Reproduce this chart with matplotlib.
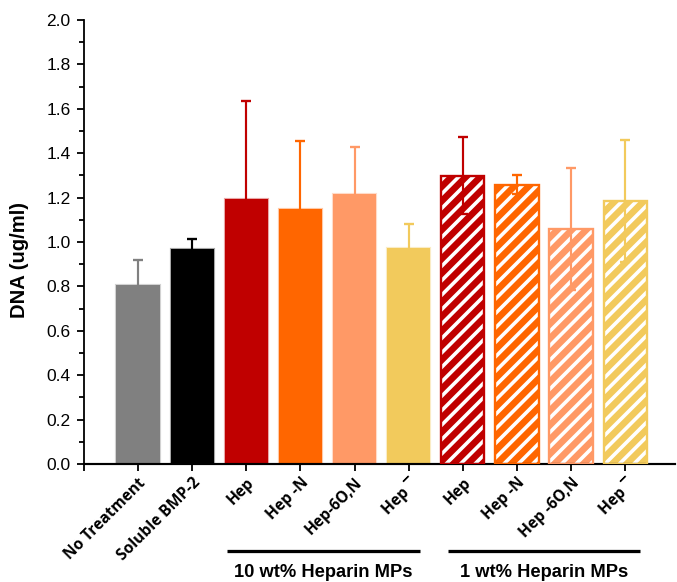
import matplotlib
matplotlib.use("Agg")
import matplotlib.pyplot as plt
from matplotlib.colors import to_rgba

categories = ["No Treatment", "Soluble BMP-2", "Hep", "Hep -N", "Hep-6O,N", "Hep \u00af",
              "Hep", "Hep -N", "Hep -6O,N", "Hep \u00af"]
values = [0.805, 0.967, 1.196, 1.151, 1.218, 0.975, 1.298, 1.259, 1.058, 1.184]
errors = [0.115, 0.046, 0.440, 0.302, 0.208, 0.108, 0.173, 0.044, 0.274, 0.276]
colors = ["#808080", "#000000", "#C00000", "#FF6600", "#FF9966", "#F2CA5C",
          "#C00000", "#FF6600", "#FF9966", "#F2CA5C"]
hatched = [False] * 6 + [True] * 4
groups = ["10 wt% Heparin MPs", "1 wt% Heparin MPs"]
group_spans = [(2.65, 6.2), (6.72, 10.28)]
yticks = [0.0, 0.2, 0.4, 0.6, 0.8, 1.0, 1.2, 1.4, 1.6, 1.8, 2.0]

DPI = 130
plt.rcParams['hatch.linewidth'] = 2.0
plt.rcParams['hatch.color'] = 'white'
fig = plt.figure(figsize=(677 / DPI, 582 / DPI), dpi=DPI)
ax = fig.add_axes([0.124, 0.2027, 0.873, 0.7629])

x = list(range(1, len(values) + 1))
for xi, v, e, c, h in zip(x, values, errors, colors, hatched):
    if h:
        ax.bar(xi, v, width=0.8, color=c, edgecolor='white', hatch='///', linewidth=0, zorder=2)
        ax.bar(xi, v, width=0.8, fill=False, edgecolor=c, linewidth=1.3, zorder=3)
    else:
        ec = to_rgba(c, 0.35)
        ax.bar(xi, v, width=0.8, color=c, edgecolor=ec, linewidth=1.2, zorder=2)
    ax.errorbar(xi, v, yerr=e, fmt='none', ecolor=c, elinewidth=1.2,
                capsize=3.0, capthick=1.3, zorder=4 if h else 1)

ax.set_ylim(0, 2.0)
ax.set_xlim(0, 10.92)
ax.set_yticks(yticks)
ax.set_yticklabels([f"{t:.1f}" for t in yticks], fontsize=9.6, family='Liberation Sans')
ax.set_yticks([t + 0.1 for t in yticks[:-1]], minor=True)
ax.set_xticks([0] + x)
ax.set_xticklabels([""] + categories, rotation=45, ha='right', va='top',
                   rotation_mode='anchor', fontsize=8.6, fontweight='bold',
                   family=['Open Sans', 'DejaVu Sans'])
ax.tick_params(axis='both', which='major', direction='out', length=4, width=1.0, color='black')
ax.tick_params(axis='y', which='minor', direction='out', length=2.5, width=1.0)
ax.tick_params(axis='x', which='major', pad=2)
ax.spines['top'].set_visible(False)
ax.spines['right'].set_visible(False)
ax.spines['left'].set_linewidth(1.0)
ax.spines['bottom'].set_linewidth(1.2)
ax.set_ylabel("DNA (ug/ml)", fontsize=11.2, fontweight='bold', family='Liberation Sans')
ax.yaxis.set_label_coords(-0.093, 0.459)

trans = ax.get_xaxis_transform()
for (a, b), g in zip(group_spans, groups):
    ax.plot([a, b], [-0.195, -0.195], color='black', lw=1.8,
            transform=trans, clip_on=False, solid_capstyle='butt')
    ax.text((a + b) / 2, -0.245, g, transform=trans, ha='center', va='center',
            fontsize=10.2, fontweight='bold', family='Liberation Sans')

fig.savefig("out.png", dpi=DPI)
